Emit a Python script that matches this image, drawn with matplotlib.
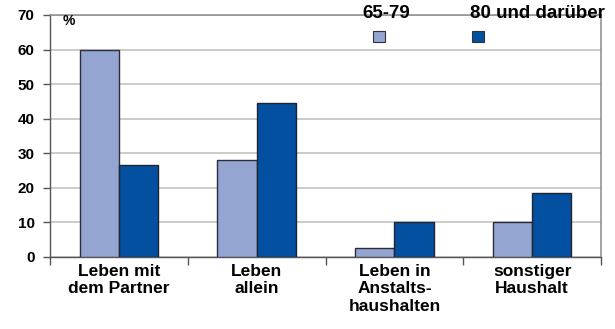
import matplotlib
matplotlib.use('Agg')
import matplotlib.pyplot as plt
from matplotlib.patches import Rectangle
import numpy as np

# data
categories = ['Leben mit\ndem Partner', 'Leben\nallein', 'Leben in\nAnstalts-\nhaushalten', 'sonstiger\nHaushalt']
age_65_79 = [60, 28, 2.5, 10]
age_80_plus = [26.5, 44.5, 10, 18.5]
series_names = ['65-79', '80 und darüber']
yticks = [0, 10, 20, 30, 40, 50, 60, 70]

light = '#94a5d2'
dark = '#0350a0'

plt.rcParams['font.family'] = ['Liberation Sans', 'DejaVu Sans']
plt.rcParams['font.weight'] = 'bold'

fig = plt.figure(figsize=(6.15, 3.29), dpi=100)
W, H = 615, 329
ax = fig.add_axes([50 / W, 1 - 257 / H, (601 - 50) / W, (257 - 15) / H])

x = np.arange(len(categories))
w = 0.285
ax.bar(x - w / 2, age_65_79, w, color=light, edgecolor='#2b2b3a', linewidth=1, zorder=3)
ax.bar(x + w / 2, age_80_plus, w, color=dark, edgecolor='#1f2533', linewidth=1, zorder=3)

ax.set_xlim(-0.5, len(categories) - 0.5)
ax.set_ylim(0, 70)
ax.set_yticks(yticks)
ax.set_yticklabels([str(v) for v in yticks], fontsize=11, fontweight='bold')
ax.yaxis.grid(True, color='#bdbdbd', linewidth=1.1, zorder=0)
ax.set_axisbelow(True)

# category labels between boundary ticks
ax.set_xticks(x)
ax.set_xticklabels(categories, fontsize=12.5, fontweight='bold', linespacing=1.2)
ax.tick_params(axis='x', length=0, pad=5)
ax.set_xticks(np.arange(-0.5, len(categories)), minor=True)
ax.tick_params(axis='x', which='minor', length=6, color='#555555', width=1)
ax.tick_params(axis='y', length=5, color='#555555', width=1, pad=6)

for s in ['left', 'bottom']:
    ax.spines[s].set_color('#555555')
    ax.spines[s].set_linewidth(1)
for s in ['top', 'right']:
    ax.spines[s].set_color('#8a8a8a')
    ax.spines[s].set_linewidth(1.1)

ax.text(63 / W, 1 - 21 / H, '%', transform=fig.transFigure, fontsize=10,
        fontweight='bold', va='center', ha='left')

# legend: name above a small square
leg = [(386, 379, light), (537, 478, dark)]
for name, (tx, sx, c) in zip(series_names, leg):
    fig.text(tx / W, 1 - 13 / H, name, fontsize=13.5, fontweight='bold',
             ha='center', va='center')
    fig.patches.append(Rectangle((sx / W - 6 / W, 1 - 42 / H), 12 / W, 11 / H,
                                 transform=fig.transFigure, facecolor=c,
                                 edgecolor='#333333', linewidth=0.8))

plt.savefig('out.png', dpi=100)
